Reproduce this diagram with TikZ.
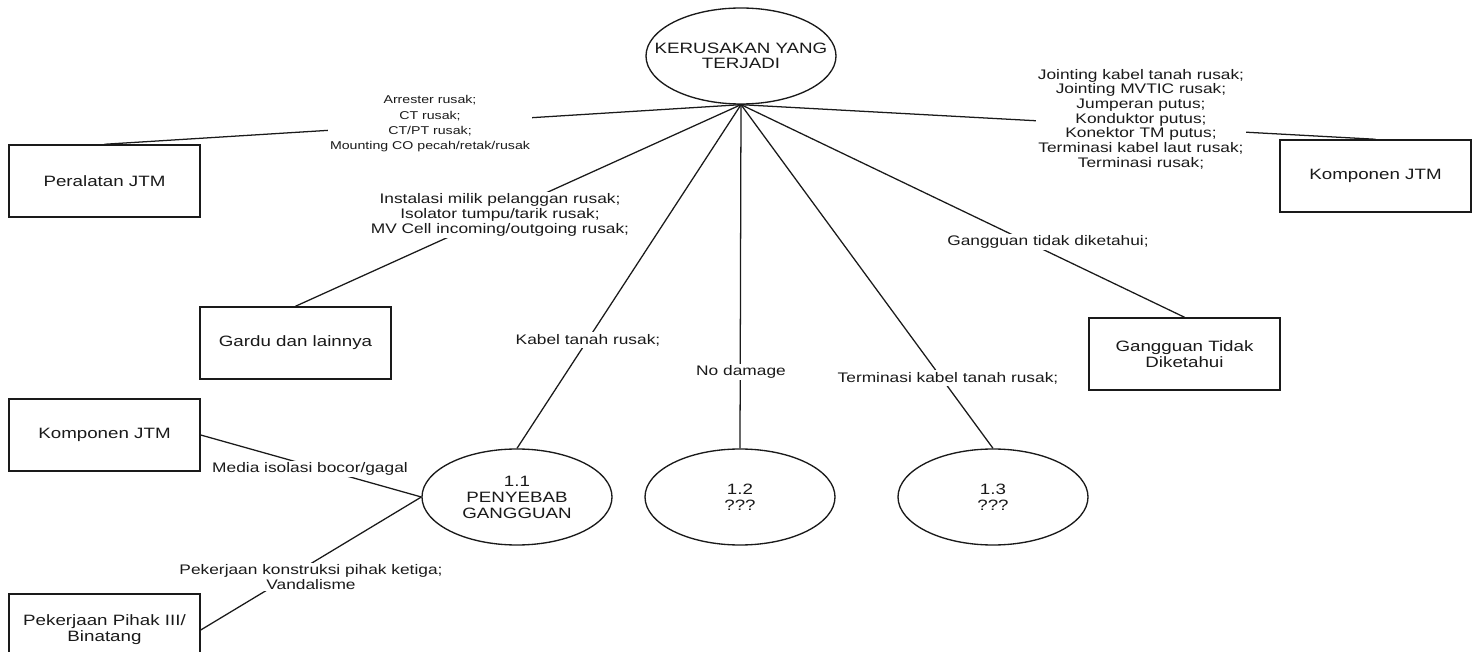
\documentclass[tikz,border=0pt]{standalone}
\usepackage{fontspec}
\setmainfont{Liberation Sans}[FakeStretch=1.25]
\usetikzlibrary{shapes.geometric}
\definecolor{ink}{HTML}{1A1A1A}
\begin{document}
\begin{tikzpicture}[x=0.75pt,y=-0.75pt,
  every node/.style={text=ink},
  procbox/.style={draw=ink,line width=1.1pt,minimum width=143.25pt,minimum height=54pt,
    inner sep=0pt,align=center,font=\fontsize{11.25}{12}\selectfont},
  proc/.style={ellipse,draw=ink,line width=1pt,minimum width=142.5pt,minimum height=72pt,
    inner sep=0pt,align=center,font=\fontsize{11.25}{12}\selectfont},
  proctext/.style={inner sep=0pt,align=center,font=\fontsize{11.25}{11.5}\selectfont},
  flow/.style={draw=ink,line width=0.95pt},
  flowlabel/.style={fill=white,inner sep=1.5pt,align=center,font=\fontsize{10.4}{11}\selectfont},
  smalllabel/.style={flowlabel,font=\fontsize{8.5}{11.5}\selectfont}]

\useasboundingbox (0,0) rectangle (1472,652);
\clip (0,0) rectangle (1472,652);
\fill[white] (0,0) rectangle (1472,652);

% processes and external entities
\node[proc] (top) at (741,56) {};
\node[proctext] (toptext) at (top.center) {KERUSAKAN YANG\\TERJADI};
\node[procbox] (peralatan) at (104.5,181) {Peralatan JTM};
\node[procbox] (kompR) at (1375.5,176) {Komponen JTM};
\node[procbox] (gardu) at (295.5,343) {Gardu dan lainnya};
\node[procbox] (gtd) at (1184.5,354) {Gangguan Tidak\\Diketahui};
\node[procbox] (kompL) at (104.5,435) {Komponen JTM};
\node[procbox] (pihak) at (104.5,630) {Pekerjaan Pihak III/\\Binatang};
\node[proc] (p11) at (517,497) {1.1\\PENYEBAB\\GANGGUAN};
\node[proc] (p12) at (740,497) {1.2\\???};
\node[proc] (p13) at (993,497) {1.3\\???};

% data flows
\draw[flow] (top.south) -- (peralatan.north);
\draw[flow] (top.south) -- (kompR.north);
\draw[flow] (top.south) -- (gardu.north);
\draw[flow] (top.south) -- (gtd.north);
\draw[flow] (top.south) -- (p11.north);
\draw[flow] (top.south) -- (p12.north);
\draw[flow] (top.south) -- (p13.north);
\draw[flow] (kompL.east) -- (p11.west);
\draw[flow] (p11.west) -- (pihak.east);

% flow labels
\node[smalllabel] (lArr) at (430,124) {Arrester rusak;\\CT rusak;\\CT/PT rusak;\\Mounting CO pecah/retak/rusak};
\node[flowlabel] (lRight) at (1141,119) {Jointing kabel tanah rusak;\\Jointing MVTIC rusak;\\Jumperan putus;\\Konduktor putus;\\Konektor TM putus;\\Terminasi kabel laut rusak;\\Terminasi rusak;};
\node[flowlabel] (lInst) at (500,215) {Instalasi milik pelanggan rusak;\\Isolator tumpu/tarik rusak;\\MV Cell incoming/outgoing rusak;};
\node[flowlabel] (lKabel) at (588,340) {Kabel tanah rusak;};
\node[flowlabel] (lNo) at (741,372) {No damage};
\node[flowlabel] (lTerm) at (948,378) {Terminasi kabel tanah rusak;};
\node[flowlabel] (lGang) at (1048,242) {Gangguan tidak diketahui;};
\node[flowlabel] (lMedia) at (310,469) {Media isolasi bocor/gagal};
\node[flowlabel] (lPek) at (311,577) {Pekerjaan konstruksi pihak ketiga;\\Vandalisme};
\end{tikzpicture}
\end{document}
